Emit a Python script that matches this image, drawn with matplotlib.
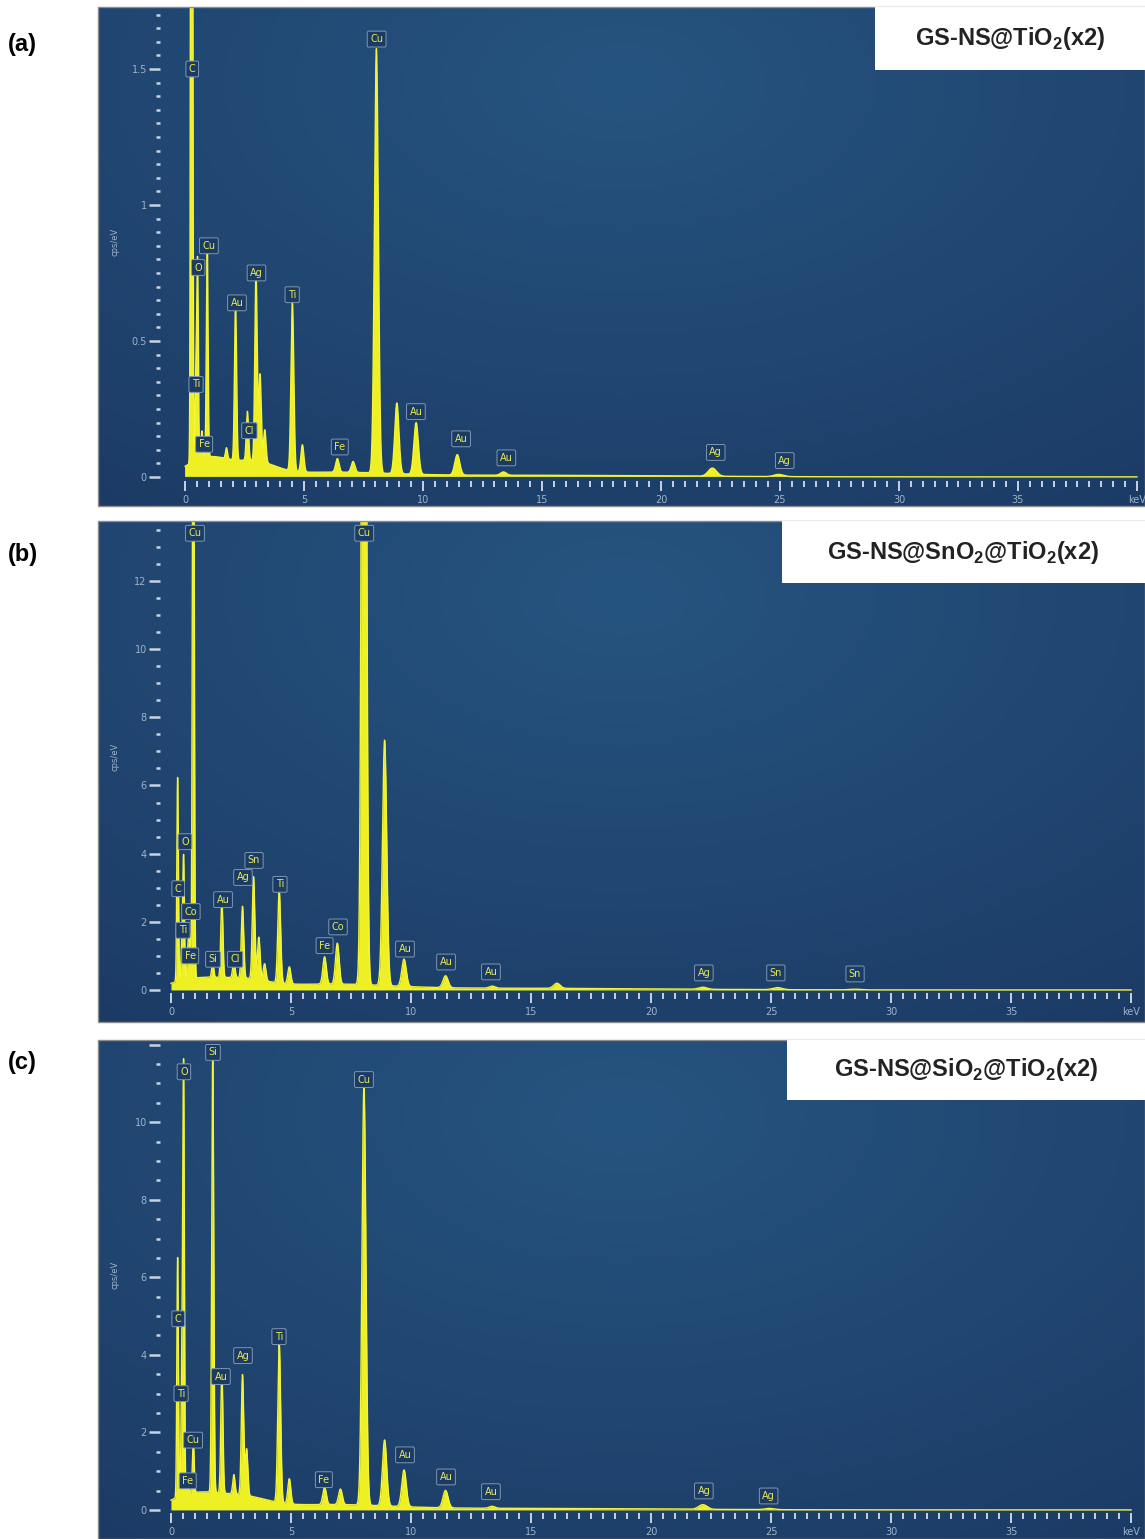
import numpy as np
import matplotlib
matplotlib.use("Agg")
import matplotlib.pyplot as plt
from matplotlib.patches import Rectangle
from matplotlib.ticker import FuncFormatter

plt.rcParams["mathtext.fontset"] = "custom"
plt.rcParams["mathtext.rm"] = "Liberation Sans"
plt.rcParams["mathtext.bf"] = "Liberation Sans:bold"

# energy axis (keV)
energy = np.linspace(0, 40, 8001)

# ---- panel (a) GS-NS@TiO2(x2): line energies / heights (cps/eV)
a_lines_e = [0.277, 0.452, 0.525, 0.705, 0.930, 1.74, 2.12, 2.62, 2.98, 3.15, 3.35,
             4.51, 4.93, 6.40, 7.06, 8.04, 8.90, 9.71, 11.44, 13.38, 22.16, 24.94]
a_lines_h = [8.0, 0.30, 0.72, 0.10, 0.80, 0.04, 0.58, 0.18, 0.70, 0.32, 0.12,
             0.62, 0.10, 0.05, 0.04, 1.56, 0.26, 0.19, 0.075, 0.012, 0.03, 0.008]
a_bg_e = [1.0, 3.0, 6.0, 14.0]
a_bg_h = [0.07, 0.045, 0.015, 0.006]
a_bg_w = [0.9, 0.8, 2.5, 6.0]
a_tags = ["C", "Cu", "Cu", "O", "Ag", "Au", "Ti", "Ti", "Cl", "Fe", "Fe",
          "Au", "Au", "Au", "Ag", "Ag"]
a_tag_x = [0.30, 8.05, 1.00, 0.55, 3.00, 2.18, 4.50, 0.46, 2.70, 0.80, 6.50,
           9.70, 11.60, 13.50, 22.30, 25.20]
a_tag_y = [1.50, 1.61, 0.85, 0.77, 0.75, 0.64, 0.67, 0.34, 0.17, 0.12, 0.11,
           0.24, 0.14, 0.07, 0.09, 0.06]

# ---- panel (b) GS-NS@SnO2@TiO2(x2)
b_lines_e = [0.277, 0.452, 0.525, 0.705, 0.776, 0.930, 1.74, 2.12, 2.62, 2.98, 3.44,
             3.66, 3.90, 4.51, 4.93, 6.40, 6.93, 8.04, 8.90, 9.71, 11.44, 13.38,
             16.08, 22.16, 25.27, 28.48]
b_lines_h = [6.0, 1.0, 3.6, 0.9, 1.2, 22.0, 0.45, 2.3, 0.5, 2.1, 3.0,
             1.25, 0.5, 2.7, 0.5, 0.8, 1.2, 40.0, 7.2, 0.8, 0.35, 0.06,
             0.15, 0.06, 0.06, 0.02]
b_bg_e = [1.0, 3.0, 6.5, 14.0]
b_bg_h = [0.30, 0.25, 0.15, 0.05]
b_bg_w = [1.0, 1.0, 2.5, 6.0]
b_tags = ["Cu", "Cu", "O", "C", "Co", "Ti", "Fe", "Si", "Cl", "Au", "Ag", "Sn",
          "Ti", "Fe", "Co", "Au", "Au", "Au", "Ag", "Sn", "Sn"]
b_tag_x = [1.00, 8.05, 0.58, 0.30, 0.83, 0.50, 0.80, 1.75, 2.67, 2.17, 3.00, 3.46,
           4.54, 6.40, 6.96, 9.75, 11.46, 13.33, 22.20, 25.20, 28.50]
b_tag_y = [13.4, 13.4, 4.35, 2.97, 2.30, 1.75, 1.00, 0.90, 0.90, 2.65, 3.30, 3.80,
           3.10, 1.30, 1.85, 1.20, 0.82, 0.53, 0.50, 0.50, 0.47]

# ---- panel (c) GS-NS@SiO2@TiO2(x2)
c_lines_e = [0.277, 0.452, 0.525, 0.705, 0.930, 1.74, 2.12, 2.62, 2.98, 3.15,
             4.51, 4.93, 6.40, 7.06, 8.04, 8.90, 9.71, 11.44, 13.38, 22.16, 24.94]
c_lines_h = [6.2, 3.0, 11.0, 0.5, 1.4, 11.3, 3.2, 0.5, 3.1, 1.2,
             4.1, 0.65, 0.45, 0.4, 10.8, 1.7, 0.95, 0.45, 0.05, 0.12, 0.03]
c_bg_e = [1.0, 3.0, 6.5, 14.0]
c_bg_h = [0.40, 0.28, 0.12, 0.04]
c_bg_w = [1.0, 1.0, 2.5, 6.0]
c_tags = ["O", "Si", "Cu", "C", "Ti", "Cu", "Fe", "Au", "Ag", "Ti", "Fe",
          "Au", "Au", "Au", "Ag", "Ag"]
c_tag_x = [0.54, 1.75, 8.04, 0.30, 0.42, 0.92, 0.70, 2.08, 3.00, 4.50, 6.37,
           9.75, 11.46, 13.33, 22.20, 24.90]
c_tag_y = [11.3, 11.8, 11.1, 4.93, 3.00, 1.80, 0.75, 3.44, 3.98, 4.47, 0.78,
           1.42, 0.85, 0.47, 0.49, 0.36]

titles = [r"GS-NS@TiO$_\mathbf{2}$(x2)", r"GS-NS@SnO$_\mathbf{2}$@TiO$_\mathbf{2}$(x2)",
          r"GS-NS@SiO$_\mathbf{2}$@TiO$_\mathbf{2}$(x2)"]
letters = ["(a)", "(b)", "(c)"]


def spectrum(le, lh, be, bh, bw):
    y = np.zeros_like(energy)
    for e, h in zip(le, lh):
        s = 0.03 + 0.0065 * e
        y += h * np.exp(-0.5 * ((energy - e) / s) ** 2)
    for e, h, w in zip(be, bh, bw):
        y += h * np.exp(-0.5 * ((energy - e) / w) ** 2)
    return y


W, H = 1145, 1539
fig = plt.figure(figsize=(W / 100, H / 100), dpi=100)
fig.patch.set_facecolor("white")

# panel boxes in pixels: top, bottom
boxes = [(7, 506), (521, 1022), (1040, 1539)]
xlims = [(-3.66, 40.34), (-3.04, 40.58), (-3.04, 40.58)]
ylims = [(-0.107, 1.728), (-0.94, 13.76), (-0.75, 12.12)]
ylabel_max = [1.5, 12, 10]
yspine = [-1.05, -0.46, -0.46]
xspine = [-0.015, -0.09, -0.08]
ymaj = [0.5, 2, 2]
ymin = [0.05, 0.5, 0.5]
tboxes = [(0.742, 0.874), (0.653, 0.876), (0.658, 0.880)]
letter_y = [45, 555, 1063]

data = [
    (a_lines_e, a_lines_h, a_bg_e, a_bg_h, a_bg_w, a_tags, a_tag_x, a_tag_y),
    (b_lines_e, b_lines_h, b_bg_e, b_bg_h, b_bg_w, b_tags, b_tag_x, b_tag_y),
    (c_lines_e, c_lines_h, c_bg_e, c_bg_h, c_bg_w, c_tags, c_tag_x, c_tag_y),
]

# radial-ish background gradient
gx, gy = np.meshgrid(np.linspace(0, 1, 300), np.linspace(0, 1, 150))
d = np.sqrt(((gx - 0.5) / 0.9) ** 2 + ((gy - 0.85) / 1.1) ** 2)
d = np.clip(d, 0, 1)
c0 = np.array([38, 84, 128]) / 255
c1 = np.array([27, 58, 100]) / 255
grad = c0[None, None, :] * (1 - d[..., None]) + c1[None, None, :] * d[..., None]

tick_col = "#c9d3df"
lab_col = "#9fb3c9"

for i, (le, lh, be, bh, bw, tags, tx, ty) in enumerate(data):
    top, bot = boxes[i]
    ax = fig.add_axes([98 / W, 1 - bot / H, 1047 / W, (bot - top) / H])
    ax.set_xlim(*xlims[i])
    ax.set_ylim(*ylims[i])
    ax.imshow(grad, extent=[0, 1, 0, 1], transform=ax.transAxes, origin="lower",
              aspect="auto", zorder=0)

    y = spectrum(le, lh, be, bh, bw)
    ax.fill_between(energy, 0, y, color="#eef023", lw=0, zorder=2)
    ax.plot(energy, y, color="#f3f53a", lw=1.0, zorder=3)

    for s in ["top", "right", "left", "bottom"]:
        ax.spines[s].set_visible(False)
    ax.spines["left"].set_position(("data", yspine[i]))
    ax.spines["bottom"].set_position(("data", xspine[i]))

    lm = ylabel_max[i]
    ax.yaxis.set_major_formatter(FuncFormatter(
        lambda v, p, lm=lm: "%g" % v if v <= lm + 1e-9 else ""))
    ax.xaxis.set_major_formatter(FuncFormatter(
        lambda v, p: "keV" if abs(v - 40) < 1e-6 else "%d" % v))
    ax.tick_params(axis="y", which="major", direction="out", length=8, width=1.8,
                   color=tick_col, labelcolor=lab_col, labelsize=7, pad=1.5)
    ax.tick_params(axis="y", which="minor", direction="out", length=3, width=1.8,
                   color=tick_col)
    ax.tick_params(axis="x", which="major", direction="out", length=7, width=1.4,
                   color=tick_col, labelcolor=lab_col, labelsize=7, pad=3)
    ax.tick_params(axis="x", which="minor", direction="out", length=4, width=1.4,
                   color=tick_col)
    ax.set_yticks(np.arange(0, ylims[i][1], ymaj[i]))
    ax.set_yticks([t for t in np.arange(0, ylims[i][1], ymin[i])], minor=True)
    ax.set_xticks(np.arange(0, 41, 5))
    ax.set_xticks([t for t in np.arange(0, 40.01, 0.5) if t % 5 != 0], minor=True)

    ax.text(0.016, 0.53, "cps/eV", transform=ax.transAxes, rotation=90,
            color=lab_col, fontsize=6, ha="center", va="center")

    for name, x, yy in zip(tags, tx, ty):
        ax.text(x, yy, name, color="#e6ea5a", fontsize=7, ha="center", va="center",
                zorder=5, clip_on=True,
                bbox=dict(boxstyle="round,pad=0.3,rounding_size=0.15", fc="#1c3b63",
                          ec="#7f97b3", lw=0.7))

    # frame
    ax.add_patch(Rectangle((0, 0), 1, 1, transform=ax.transAxes, fill=False,
                           ec="#8c8c8c", lw=1.0, zorder=6, clip_on=False))
    # title box
    bx, by = tboxes[i]
    ax.add_patch(Rectangle((bx, by), 1 - bx, 1 - by, transform=ax.transAxes,
                           fc="white", ec="none", zorder=7))
    ax.text((bx + 1) / 2, (by + 1) / 2, titles[i], transform=ax.transAxes,
            ha="center", va="center", fontsize=17, fontweight="bold", color="#222222",
            zorder=8, fontfamily="Liberation Sans")

    fig.text(8 / W, 1 - letter_y[i] / H, letters[i], fontsize=17, fontweight="bold",
             ha="left", va="center", fontfamily="Liberation Sans")

fig.savefig("out.png", dpi=100)
